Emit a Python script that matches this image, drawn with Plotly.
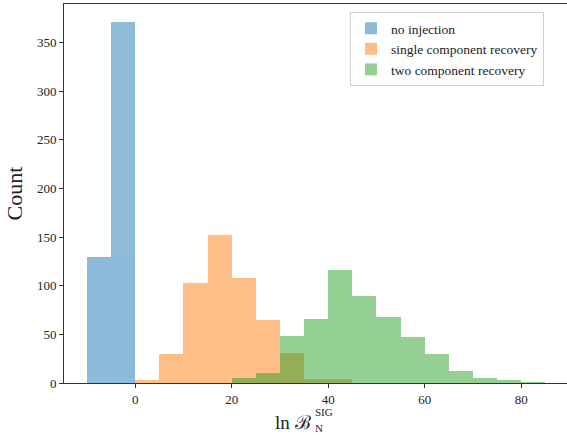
import plotly.graph_objects as go

# ---- data (histogram counts, bin width 5) ----
bin_width = 5
no_inj_left = [-10, -5]
no_inj_counts = [129, 371]

single_left = [0, 5, 10, 15, 20, 25, 30, 35, 40]
single_counts = [3, 30, 103, 152, 108, 65, 31, 4, 4]

two_left = [20, 25, 30, 35, 40, 45, 50, 55, 60, 65, 70, 75, 80]
two_counts = [5, 10, 48, 66, 116, 89, 68, 47, 30, 12, 5, 3, 1]

x_ticks = [0, 20, 40, 60, 80]
y_ticks = [0, 50, 100, 150, 200, 250, 300, 350]

series = [
    ("no injection", no_inj_left, no_inj_counts, "rgb(31,119,180)"),
    ("single component recovery", single_left, single_counts, "rgb(255,127,14)"),
    ("two component recovery", two_left, two_counts, "rgb(44,160,44)"),
]

FONT = "Liberation Serif"

fig = go.Figure()
for name, left, counts, color in series:
    fig.add_trace(go.Bar(
        x=[l + bin_width / 2 for l in left],
        y=counts,
        width=bin_width,
        name=name,
        marker=dict(color=color, line=dict(width=0)),
        opacity=0.5,
    ))

W, H = 567, 435
L, R, T, B = 64, 0, 4, 52
pw, ph = W - L - R, H - T - B


def px(xp):
    return (xp - L) / pw


def py(yp):
    return (H - B - yp) / ph


fig.update_layout(
    width=W, height=H,
    margin=dict(l=L, r=R, t=T, b=B),
    paper_bgcolor="white", plot_bgcolor="white",
    barmode="overlay", bargap=0,
    font=dict(family=FONT, size=13, color="#222"),
    showlegend=True,
    legend=dict(
        x=px(350), y=py(12), xanchor="left", yanchor="top",
        bgcolor="rgba(255,255,255,0.8)", bordercolor="#d0d0d0", borderwidth=1,
        font=dict(family=FONT, size=13.5, color="#222"),
        itemsizing="constant", tracegroupgap=0,
    ),
    xaxis=dict(
        range=[-14.75, 89.5], tickvals=x_ticks, ticktext=[str(v) for v in x_ticks],
        showgrid=False, zeroline=False, showline=True, linecolor="#333", linewidth=1,
        mirror=True, ticks="outside", ticklen=4, tickcolor="#333",
        tickfont=dict(size=13),
    ),
    yaxis=dict(
        range=[0, 389.55], tickvals=y_ticks, ticktext=[str(v) for v in y_ticks],
        showgrid=False, zeroline=False, showline=True, linecolor="#333", linewidth=1,
        mirror=False, ticks="outside", ticklen=4, tickcolor="#333",
        tickfont=dict(size=13),
        title=dict(text="Count", font=dict(size=22), standoff=8),
    ),
)

# x-axis label: ln B with stacked sub/superscripts
fig.add_annotation(xref="paper", yref="paper", x=px(313), y=py(422),
                   xanchor="right", yanchor="middle", showarrow=False,
                   text="ln ℬ", font=dict(size=19, family=FONT, color="#222"))
fig.add_annotation(xref="paper", yref="paper", x=px(313), y=py(420),
                   xanchor="left", yanchor="bottom", showarrow=False,
                   text="SIG", font=dict(size=11, family=FONT, color="#222"))
fig.add_annotation(xref="paper", yref="paper", x=px(313), y=py(420),
                   xanchor="left", yanchor="top", showarrow=False,
                   text="N", font=dict(size=11, family=FONT, color="#222"))

fig.write_html("out.html")
